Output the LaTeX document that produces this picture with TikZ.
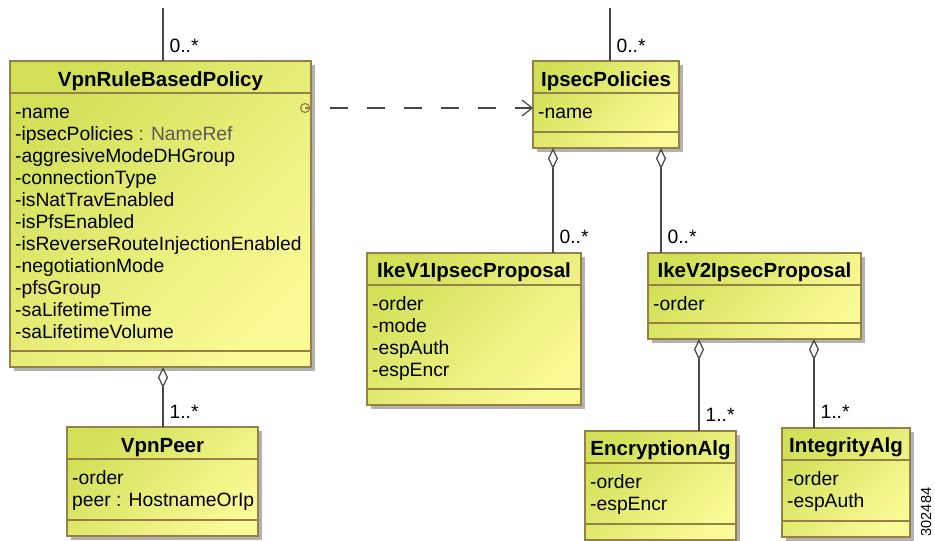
\documentclass[tikz,border=0pt]{standalone}
\usepackage{fontspec}
\setmainfont{Liberation Sans}
\usetikzlibrary{arrows.meta, shadows}

\definecolor{classgreen}{RGB}{210,224,88}
\definecolor{classpale}{RGB}{250,250,150}
\definecolor{classline}{RGB}{150,128,70}
\definecolor{connline}{RGB}{70,70,70}
\definecolor{typegrey}{RGB}{90,90,90}

\tikzset{
    classbox/.style={draw=classline, line width=1.2pt, top color=classgreen, bottom color=classpale, shading angle=45,
        drop shadow={shadow xshift=4pt, shadow yshift=-4pt, fill=black!30, opacity=1},
        anchor=north west, inner sep=0pt, outer sep=0pt},
    classname/.style={font=\fontsize{20.5}{24}\selectfont\bfseries, anchor=base, inner sep=0pt},
    attrs/.style={font=\fontsize{19.3}{22}\selectfont, align=left, anchor=north west, inner sep=0pt},
    mult/.style={font=\fontsize{19.3}{22}\selectfont, anchor=base west, inner sep=0pt, xshift=6pt, yshift=10pt},
    assoc/.style={draw=connline, line width=1.2pt},
    agg/.style={draw=connline, line width=1.2pt, {Diamond[open, length=21pt, width=10pt]}-},
    dep/.style={draw=connline, line width=1.2pt, dash pattern=on 18pt off 19pt, dash phase=18pt,
        -{Straight Barb[length=10pt, width=16pt]}},
    port/.style={circle, draw=classline, line width=1.2pt, inner sep=0pt, minimum size=9pt}
}

\begin{document}
\begin{tikzpicture}[x=1pt, y=-1pt]
    \useasboundingbox (0,0) rectangle (935,541);

    \node[classbox, minimum width=301, minimum height=306] (rule) at (10,61) {};
    \node[classbox, minimum width=146, minimum height=87] (ipsec) at (533,61) {};
    \node[classbox, minimum width=214, minimum height=152] (ikev1) at (367,253) {};
    \node[classbox, minimum width=213, minimum height=86] (ikev2) at (648,253) {};
    \node[classbox, minimum width=191, minimum height=109] (peer) at (67,427) {};
    \node[classbox, minimum width=151, minimum height=109] (encr) at (585,431) {};
    \node[classbox, minimum width=128, minimum height=109] (integ) at (782,428) {};

    \foreach \b in {rule, ipsec, ikev1, ikev2, peer, encr, integ} {
        \draw[classline, line width=1.2pt] ([yshift=-32]\b.north west) -- ([yshift=-32]\b.north east);
        \draw[classline, line width=1.2pt] ([yshift=16]\b.south west) -- ([yshift=16]\b.south east);
    }

    \node[classname] at ([yshift=-25]rule.north) {VpnRuleBasedPolicy};
    \node[classname] at ([yshift=-25]ipsec.north) {IpsecPolicies};
    \node[classname] at ([yshift=-24]ikev1.north) {IkeV1IpsecProposal};
    \node[classname] at ([yshift=-24]ikev2.north) {IkeV2IpsecProposal};
    \node[classname] at ([yshift=-25]peer.north) {VpnPeer};
    \node[classname] at ([yshift=-24]encr.north) {EncryptionAlg};
    \node[classname] at ([yshift=-24]integ.north) {IntegrityAlg};

    \node[attrs] at ([xshift=5, yshift=-42]rule.north west) {\strut-name\\
        -ipsecPolicies \textcolor{typegrey}{: NameRef}\\
        -aggresiveModeDHGroup\\
        -connectionType\\
        -isNatTravEnabled\\
        -isPfsEnabled\\
        -isReverseRouteInjectionEnabled\\
        -negotiationMode\\
        -pfsGroup\\
        -saLifetimeTime\\
        -saLifetimeVolume};
    \node[attrs] at ([xshift=5, yshift=-42]ipsec.north west) {\strut-name};
    \node[attrs] at ([xshift=5, yshift=-42]ikev1.north west) {\strut-order\\ -mode\\ -espAuth\\ -espEncr};
    \node[attrs] at ([xshift=5, yshift=-42]ikev2.north west) {\strut-order};
    \node[attrs] at ([xshift=5, yshift=-42]peer.north west) {\strut-order\\ peer : HostnameOrIp};
    \node[attrs] at ([xshift=5, yshift=-42]encr.north west) {\strut-order\\ -espEncr};
    \node[attrs] at ([xshift=5, yshift=-42]integ.north west) {\strut-order\\ -espAuth};

    \coordinate (ruletop) at (163,8);
    \coordinate (ipsectop) at (610,8);
    \draw[assoc] (ruletop) -- (ruletop |- rule.north) node[mult, yshift=-1pt] {0..*};
    \draw[assoc] (ipsectop) -- (ipsectop |- ipsec.north) node[mult, yshift=-1pt] {0..*};

    \draw[agg] (553,0 |- ipsec.south) -- (553,0 |- ikev1.north) node[mult] {0..*};
    \draw[agg] (661,0 |- ipsec.south) -- (661,0 |- ikev2.north) node[mult] {0..*};
    \draw[agg] (163,0 |- rule.south) -- (163,0 |- peer.north) node[mult, yshift=-1pt] {1..*};
    \draw[agg] (699,0 |- ikev2.south) -- (699,0 |- encr.north) node[mult] {1..*};
    \draw[agg] (814,0 |- ikev2.south) -- (814,0 |- integ.north) node[mult] {1..*};

    \node[port] (port) at (305,108) {};
    \draw[classline, line width=1.2pt] (port.center) -- (rule.east |- port);
    \draw[dep] (rule.east |- port) -- (port -| ipsec.west);

    \node[rotate=90, font=\fontsize{14.5}{16}\selectfont, inner sep=0pt] (fignum) at (926,512) {302484};
\end{tikzpicture}
\end{document}
